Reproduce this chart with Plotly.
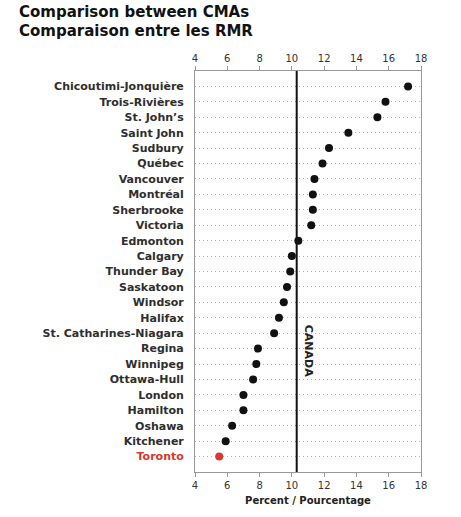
import plotly.graph_objects as go

cities = ["Chicoutimi-Jonquière", "Trois-Rivières", "St. John’s", "Saint John", "Sudbury",
          "Québec", "Vancouver", "Montréal", "Sherbrooke", "Victoria", "Edmonton", "Calgary",
          "Thunder Bay", "Saskatoon", "Windsor", "Halifax", "St. Catharines-Niagara", "Regina",
          "Winnipeg", "Ottawa-Hull", "London", "Hamilton", "Oshawa", "Kitchener", "Toronto"]
values = [17.2, 15.8, 15.3, 13.5, 12.3, 11.9, 11.4, 11.3, 11.3, 11.2, 10.4, 10.0,
          9.9, 9.7, 9.5, 9.2, 8.9, 7.9, 7.8, 7.6, 7.0, 7.0, 6.3, 5.9, 5.5]
highlight = "Toronto"
canada_value = 10.3
x_ticks = [4, 6, 8, 10, 12, 14, 16, 18]
title_lines = ["Comparison between CMAs", "Comparaison entre les RMR"]

RED = "#d8382f"
colors = [RED if c == highlight else "#111111" for c in cities]
ticktext = [f"<span style='color:{RED}'>{c}</span>" if c == highlight else c for c in cities]
idx = list(range(len(cities)))

W, H = 461, 517
L, T, PW, PH = 195, 71, 226, 401

fig = go.Figure()
fig.add_trace(go.Scatter(x=values, y=idx, mode="markers",
                         marker=dict(size=8, color=colors), showlegend=False,
                         hoverinfo="skip"))
fig.add_trace(go.Scatter(x=[x_ticks[0], x_ticks[-1]], y=[0, 0], xaxis="x2", mode="markers",
                         marker=dict(opacity=0), showlegend=False, hoverinfo="skip"))

fig.add_shape(type="line", x0=canada_value, x1=canada_value, y0=0, y1=1, yref="paper",
              line=dict(color="#111111", width=2))
fig.add_annotation(x=canada_value, y=17.15, xanchor="left", yanchor="middle", xshift=3,
                   text="CANADA", textangle=90, showarrow=False,
                   font=dict(family="DejaVu Sans", size=11, weight="bold", color="#222222"))

for i, line in enumerate(title_lines):
    fig.add_annotation(xref="paper", yref="paper", x=(17 - L) / PW,
                       y=1 + (T - 12.5 - 19 * i) / PH,
                       xanchor="left", yanchor="middle", text=line, showarrow=False,
                       font=dict(family="DejaVu Sans", size=15, weight="bold", color="#111111"))

axis_common = dict(range=[x_ticks[0], x_ticks[-1]], tickvals=x_ticks,
                   ticks="outside", ticklen=4, tickcolor="#999999",
                   showgrid=False, zeroline=False, automargin=False,
                   tickfont=dict(family="DejaVu Sans", size=10, color="#333333"))

fig.update_layout(
    width=W, height=H,
    margin=dict(l=L, r=W - L - PW, t=T, b=H - T - PH),
    paper_bgcolor="white", plot_bgcolor="white",
    hovermode=False,
    xaxis=dict(**axis_common, showline=True, linecolor="#999999", linewidth=1, mirror=True,
               title=dict(text="Percent / Pourcentage", standoff=6,
                          font=dict(family="DejaVu Sans", size=10, weight="bold",
                                    color="#222222"))),
    xaxis2=dict(**axis_common, overlaying="x", side="top", showline=False),
    yaxis=dict(range=[len(cities), -1], tickvals=idx, ticktext=ticktext,
               showgrid=True, gridcolor="#b5b5b5", griddash="1px,3px", gridwidth=1,
               showline=True, linecolor="#999999", linewidth=1, mirror=True,
               ticks="", zeroline=False, ticklabelstandoff=8, automargin=False,
               tickfont=dict(family="DejaVu Sans", size=11, weight="bold", color="#2e2e2e")),
)

fig.write_html("out.html", config={"displayModeBar": False},
               post_script="document.body.style.margin='0px';document.body.style.overflow='hidden';")
